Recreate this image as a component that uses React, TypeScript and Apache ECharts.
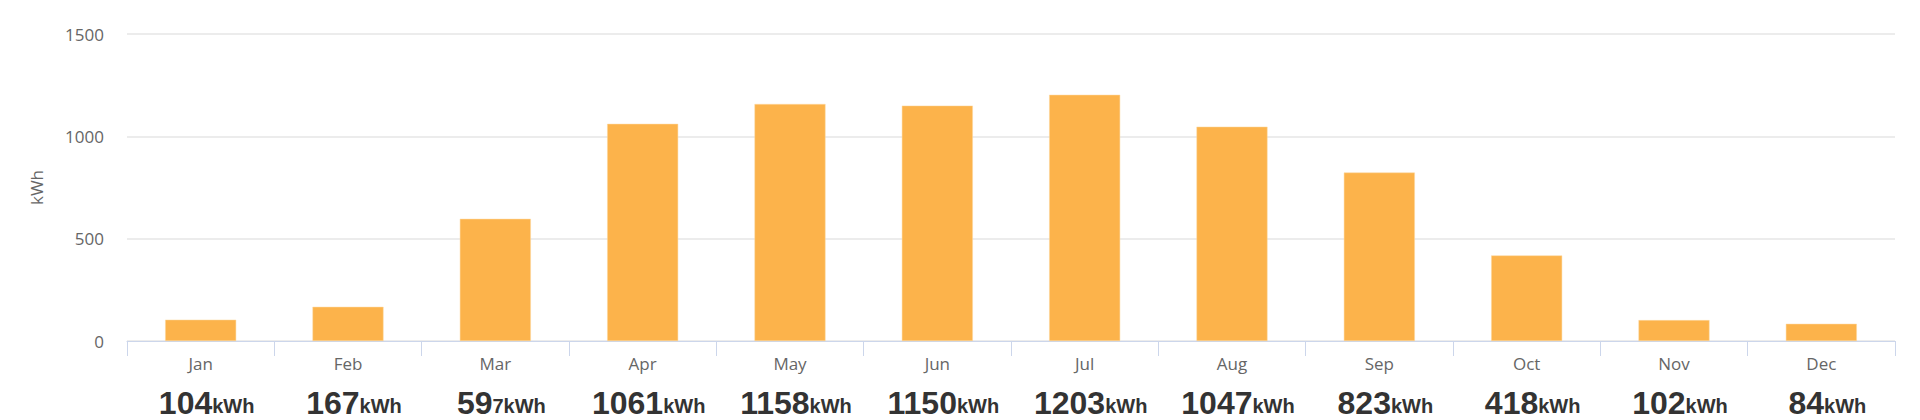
import React, { useEffect, useRef } from "react";
import * as echarts from "echarts";

const months = ["Jan", "Feb", "Mar", "Apr", "May", "Jun", "Jul", "Aug", "Sep", "Oct", "Nov", "Dec"];
const energy = [104, 167, 597, 1061, 1158, 1150, 1203, 1047, 823, 418, 102, 84];
const bigLabels = ["104", "167", "59", "1061", "1158", "1150", "1203", "1047", "823", "418", "102", "84"];
const unitLabels = ["kWh", "kWh", "7kWh", "kWh", "kWh", "kWh", "kWh", "kWh", "kWh", "kWh", "kWh", "kWh"];
const yTicks = { min: 0, max: 1500, interval: 500 };
const yName = "kWh";

export default function App() {
  const ref = useRef<HTMLDivElement>(null);
  useEffect(() => {
    if (!ref.current) return;
    const chart = echarts.init(ref.current, null, { renderer: "svg" });
    chart.setOption({
      animation: false,
      backgroundColor: "#ffffff",
      grid: { left: 127, right: 25, top: 34, bottom: 79, containLabel: false, outerBoundsMode: "none" },
      xAxis: {
        type: "category",
        data: months,
        axisLine: { lineStyle: { color: "#ccd6eb", width: 1 } },
        axisTick: { show: true, length: 15, lineStyle: { color: "#ccd6eb" } },
        axisLabel: {
          margin: 10,
          interval: 0,
          formatter: (v: string, i: number) => `{m|${v}}\n{v|${bigLabels[i]}}{u|${unitLabels[i]}}`,
          rich: {
            m: { fontFamily: "Open Sans", fontSize: 17, color: "#666666", lineHeight: 24 },
            v: {
              fontFamily: "Liberation Sans",
              fontWeight: "bold",
              fontSize: 32,
              color: "#333333",
              lineHeight: 44,
              verticalAlign: "bottom",
              padding: [0, 0, 0, 12],
            },
            u: {
              fontFamily: "Liberation Sans",
              fontWeight: "bold",
              fontSize: 20,
              color: "#333333",
              lineHeight: 41,
              verticalAlign: "bottom",
              padding: [0, 0, 3, 0],
            },
          },
        },
      },
      yAxis: {
        type: "value",
        min: yTicks.min,
        max: yTicks.max,
        interval: yTicks.interval,
        name: yName,
        nameLocation: "middle",
        nameGap: 82,
        nameRotate: 90,
        nameTextStyle: { fontFamily: "Open Sans", fontSize: 17, color: "#666666" },
        axisLine: { show: false },
        axisTick: { show: false },
        axisLabel: {
          fontFamily: "Open Sans",
          fontSize: 17,
          color: "#666666",
          margin: 23,
          formatter: (v: number) => String(v),
        },
        splitLine: { lineStyle: { color: "#e6e6e6", width: 1.5 } },
      },
      series: [
        {
          type: "bar",
          data: energy,
          barWidth: 71,
          itemStyle: { color: "#fcb34b", borderColor: "#fdd9a0", borderWidth: 0.5 },
        },
      ],
    });
    return () => chart.dispose();
  }, []);
  return <div ref={ref} style={{ position: "fixed", left: 0, top: 0, width: 1920, height: 420 }} />;
}
